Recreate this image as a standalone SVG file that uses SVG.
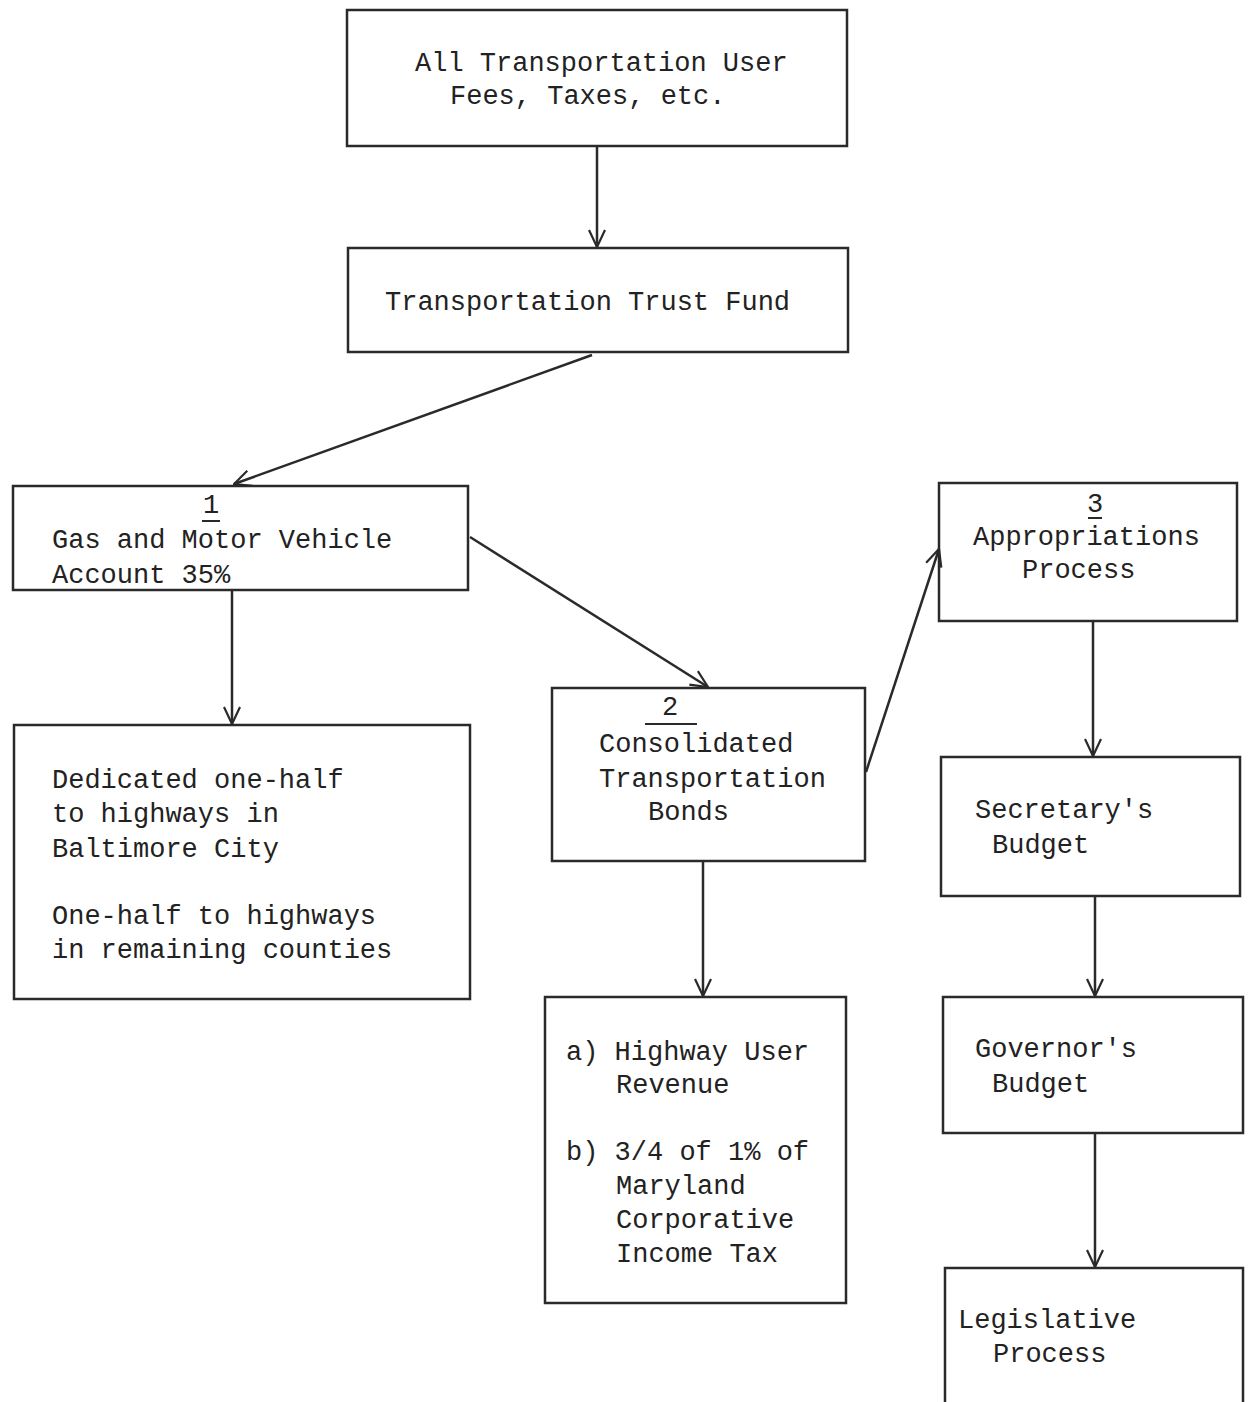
<svg xmlns="http://www.w3.org/2000/svg" width="1250" height="1402" viewBox="0 0 1250 1402">
<style>
.box{fill:none;stroke:#2a2a2a;stroke-width:2.5}
.t{font-family:"Liberation Mono","DejaVu Sans Mono",monospace;font-size:27px;fill:#222}
.c{fill:none;stroke:#2a2a2a;stroke-width:2.5}
.u{stroke:#2a2a2a;stroke-width:2}
</style>
<defs>
<marker id="ah" viewBox="0 0 20 20" refX="19" refY="10" markerWidth="20" markerHeight="20" markerUnits="userSpaceOnUse" orient="auto">
<path d="M2,2 L19,10 L2,18" fill="none" stroke="#2a2a2a" stroke-width="2.2"/>
</marker>
</defs>
<rect width="1250" height="1402" fill="#ffffff"/>
<g id="connectors">
<line class="c" x1="597" y1="146" x2="597" y2="247" marker-end="url(#ah)"/>
<line class="c" x1="592" y1="355" x2="234" y2="484" marker-end="url(#ah)"/>
<line class="c" x1="232" y1="590" x2="232" y2="724" marker-end="url(#ah)"/>
<line class="c" x1="470" y1="537" x2="708" y2="687" marker-end="url(#ah)"/>
<line class="c" x1="866" y1="772" x2="939" y2="549" marker-end="url(#ah)"/>
<line class="c" x1="703" y1="862" x2="703" y2="996" marker-end="url(#ah)"/>
<line class="c" x1="1093" y1="622" x2="1093" y2="756" marker-end="url(#ah)"/>
<line class="c" x1="1095" y1="897" x2="1095" y2="996" marker-end="url(#ah)"/>
<line class="c" x1="1095" y1="1134" x2="1095" y2="1267" marker-end="url(#ah)"/>
</g>
<g id="n1">
<rect class="box" x="347" y="10" width="500" height="136"/>
<text class="t" x="415" y="71">All Transportation User</text>
<text class="t" x="450" y="104">Fees, Taxes, etc.</text>
</g>
<g id="n2">
<rect class="box" x="348" y="248" width="500" height="104"/>
<text class="t" x="385" y="310">Transportation Trust Fund</text>
</g>
<g id="n3">
<rect class="box" x="13" y="486" width="455" height="104"/>
<text class="t" x="211" y="513" text-anchor="middle">1</text>
<line class="u" x1="202" y1="521" x2="220" y2="521"/>
<text class="t" x="52" y="548">Gas and Motor Vehicle</text>
<text class="t" x="52" y="583">Account 35%</text>
</g>
<g id="n4">
<rect class="box" x="14" y="725" width="456" height="274"/>
<text class="t" x="52" y="788">Dedicated one-half</text>
<text class="t" x="52" y="822">to highways in</text>
<text class="t" x="52" y="857">Baltimore City</text>
<text class="t" x="52" y="924">One-half to highways</text>
<text class="t" x="52" y="958">in remaining counties</text>
</g>
<g id="n5">
<rect class="box" x="552" y="688" width="313" height="173"/>
<text class="t" x="670" y="715" text-anchor="middle">2</text>
<line class="u" x1="645" y1="724" x2="697" y2="724"/>
<text class="t" x="599" y="752">Consolidated</text>
<text class="t" x="599" y="787">Transportation</text>
<text class="t" x="648" y="820">Bonds</text>
</g>
<g id="n6">
<rect class="box" x="545" y="997" width="301" height="306"/>
<text class="t" x="566" y="1060">a) Highway User</text>
<text class="t" x="616" y="1093">Revenue</text>
<text class="t" x="566" y="1160">b) 3/4 of 1% of</text>
<text class="t" x="616" y="1194">Maryland</text>
<text class="t" x="616" y="1228">Corporative</text>
<text class="t" x="616" y="1262">Income Tax</text>
</g>
<g id="n7">
<rect class="box" x="939" y="483" width="298" height="138"/>
<text class="t" x="1095" y="512" text-anchor="middle">3</text>
<line class="u" x1="1088" y1="518" x2="1102" y2="518"/>
<text class="t" x="973" y="545">Appropriations</text>
<text class="t" x="1022" y="578">Process</text>
</g>
<g id="n8">
<rect class="box" x="941" y="757" width="299" height="139"/>
<text class="t" x="975" y="818">Secretary's</text>
<text class="t" x="992" y="853">Budget</text>
</g>
<g id="n9">
<rect class="box" x="943" y="997" width="300" height="136"/>
<text class="t" x="975" y="1057">Governor's</text>
<text class="t" x="992" y="1092">Budget</text>
</g>
<g id="n10">
<path class="box" d="M945,1402 L945,1268 L1243,1268 L1243,1402"/>
<text class="t" x="958" y="1328">Legislative</text>
<text class="t" x="993" y="1362">Process</text>
</g>
</svg>
